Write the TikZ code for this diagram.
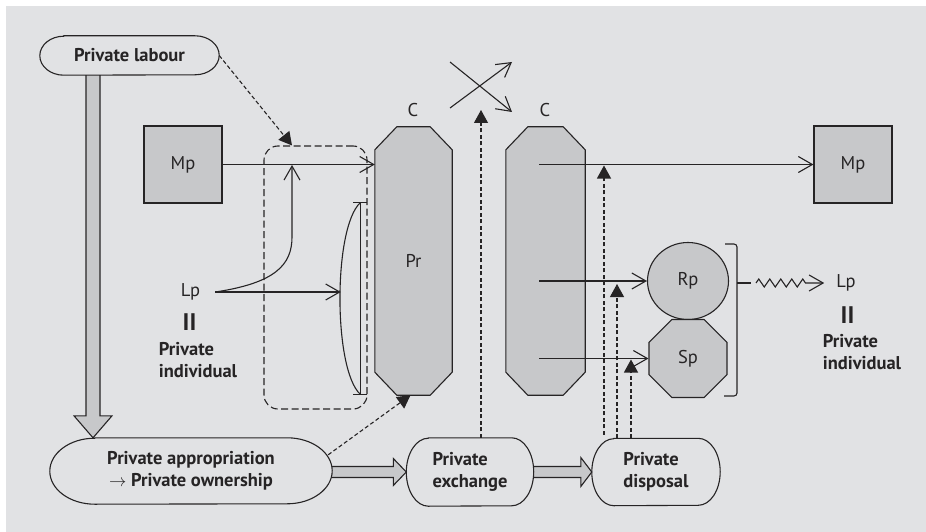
\documentclass[tikz,border=0pt]{standalone}
\usepackage{fontspec}
\setmainfont{PT Sans}
\usetikzlibrary{arrows.meta,shapes.geometric,decorations.pathmorphing}

\definecolor{panel}{HTML}{E1E2E4}
\definecolor{shade}{HTML}{C7C8CA}
\definecolor{ink}{HTML}{262425}

% stadium outline around a node: node name, end x-radius, end y-radius (pt)
\newcommand\stadiumoutline[3]{%
  \draw[outline] ([xshift=#2pt]#1.north west) -- ([xshift=-#2pt]#1.north east)
    arc[start angle=90,end angle=-90,x radius=#2pt,y radius=#3pt]
    -- ([xshift=#2pt]#1.south west)
    arc[start angle=270,end angle=90,x radius=#2pt,y radius=#3pt] -- cycle;}

% chamfered column around a node
\newcommand\columnoutline[1]{%
  \draw[outline, fill=shade] ([xshift=22pt]#1.north west) -- ([xshift=-22pt]#1.north east)
    -- ([yshift=-23pt]#1.north east) -- ([yshift=23pt]#1.south east)
    -- ([xshift=-22pt]#1.south east) -- ([xshift=22pt]#1.south west)
    -- ([yshift=23pt]#1.south west) -- ([yshift=-23pt]#1.north west) -- cycle;}

\begin{document}
\begin{tikzpicture}[x=1pt,y=-1pt,
  body/.style={font=\fontsize{18.5}{22}\selectfont},
  heavy/.style={font=\fontsize{18.5}{22}\selectfont\bfseries},
  bars/.style={font=\fontsize{24}{24}\selectfont\bfseries},
  tag/.style={body, text=ink, inner sep=0},
  outline/.style={draw=ink, line width=1.1pt},
  open/.style={outline, -{Straight Barb[length=14pt,width=16pt]}},
  dashlink/.style={outline, dash pattern=on 4pt off 2.5pt, -{Triangle[length=13pt,width=14pt]}},
  fat/.style={outline, fill=shade, line join=miter},
  box/.style={tag, outline, fill=shade, minimum width=78, minimum height=77},
]
\useasboundingbox (0,0) rectangle (926,532);
\fill[panel] (6,6) rectangle (926,532);

% rounded process boxes
\node[tag, heavy, minimum width=179, minimum height=39] (labour) at (129.5,55.5) {Private labour};
\node[tag, heavy, align=center, minimum width=282, minimum height=66] (app) at (191,471)
  {Private appropriation\\$\rightarrow$ Private ownership};
\node[tag, heavy, align=left, minimum width=127, minimum height=68] (exch) at (470,472) {Private\\exchange};
\node[tag, heavy, align=left, minimum width=128, minimum height=67] (disp) at (656,472) {Private\\disposal};

% broad flow arrows
\coordinate (fx) at (93,0);
\coordinate (ftop) at (labour.south -| fx);
\coordinate (fbot) at (app.north -| fx);
\draw[fat] ([xshift=-7pt]ftop) -- ([xshift=-7pt,yshift=22pt]fbot) -- ([xshift=-19pt,yshift=22pt]fbot)
  -- (fbot) -- ([xshift=19pt,yshift=22pt]fbot) -- ([xshift=7pt,yshift=22pt]fbot) -- ([xshift=7pt]ftop);
\coordinate (hA) at (app.east |- exch.west);
\draw[fat] ([yshift=5.5pt]hA) -- ([xshift=-13pt,yshift=5.5pt]exch.west) -- ([xshift=-13pt,yshift=13.5pt]exch.west)
  -- (exch.west) -- ([xshift=-13pt,yshift=-13.5pt]exch.west) -- ([xshift=-13pt,yshift=-5.5pt]exch.west)
  -- ([yshift=-5.5pt]hA);
\draw[fat] ([yshift=5.5pt]exch.east) -- ([xshift=-11pt,yshift=5.5pt]disp.west) -- ([xshift=-11pt,yshift=14.5pt]disp.west)
  -- (disp.west) -- ([xshift=-11pt,yshift=-14.5pt]disp.west) -- ([xshift=-11pt,yshift=-5.5pt]disp.west)
  -- ([yshift=-5.5pt]exch.east);

\stadiumoutline{labour}{24}{19.5}
\stadiumoutline{app}{45}{33}
\stadiumoutline{exch}{22}{34}
\stadiumoutline{disp}{22}{33.5}

% commodity columns
\node[tag, minimum width=77, minimum height=268] (pr) at (413.5,261) {};
\node[tag, minimum width=79, minimum height=268] (cc) at (545.5,261) {};
\columnoutline{pr}
\columnoutline{cc}
\node[tag] (prtext) at (pr.center) {Pr};
\node[tag] (cL) at (413,110) {C};
\node[tag] (cR) at (545,110) {C};

% means of production
\node[box] (mpL) at (183,164.5) {Mp};
\node[box] (mpR) at (853,164.5) {Mp};

% consumption goods
\node[tag, ellipse, outline, fill=shade, minimum width=81, minimum height=77] (rp) at (688,281) {Rp};
\node[tag, regular polygon, regular polygon sides=8, outline, fill=shade, minimum size=84.4] (sp) at (688,358.5) {Sp};

% production group
\node[outline, dash pattern=on 7pt off 3.5pt, rounded corners=14pt, minimum width=103, minimum height=263, inner sep=0] (grp) at (315.5,277.5) {};
\node[tag, minimum width=26, minimum height=191] (lens) at (354,298.5) {};
\draw[outline] ([xshift=-7pt]lens.north east) -- ([xshift=-7pt]lens.south east);
\draw[outline] ([xshift=-14pt]lens.north east) -- (lens.north east);
\draw[outline] ([xshift=-14pt]lens.south east) -- (lens.south east);
\draw[outline] ([xshift=-7pt]lens.north east) .. controls ([xshift=-34pt,yshift=-25pt]lens.north east)
  and ([xshift=-34pt,yshift=25pt]lens.south east) .. ([xshift=-7pt]lens.south east);

% labour power, left
\node[tag, inner xsep=15pt] (lpL) at (190.5,292) {Lp};
\node[tag, bars] (eqL) at (189.5,322.5) {II};
\node[tag, heavy, align=left] (indL) at (198,360) {Private\\individual};
\coordinate (jn) at (292,165);
\draw[open] (lpL.east) -- (lpL.east -| lens.west);
\draw[open] (lpL.east) .. controls (275,283) and (292,265) .. (292,237) -- (jn);
\draw[open] (mpL.east) -- (mpL.east -| pr.west);
\draw[dashlink] (labour.east) -- (jn |- grp.north);
\draw[dashlink] ([shift={(-4pt,-17pt)}]app.north east) -- ([xshift=-3pt]pr.south);

% exchange crossing
\coordinate (xa) at (450,62);
\coordinate (xb) at (512,112);
\coordinate (xc) at (450,108);
\coordinate (xd) at (512,62);
\draw[open] (xa) -- (xb);
\draw[open] (xc) -- (xd);

% outflows of the second column
\coordinate (cs) at (539,0);
\draw[open] (cs |- mpR.west) -- (mpR.west);
\draw[open] (cs |- rp.west) -- (rp.west);
\draw[open] (cs |- sp.west) -- (sp.west);

% dashed links from exchange and disposal
\coordinate (d0) at (481,0);
\coordinate (d1) at (604,0);
\coordinate (d2) at (617,0);
\coordinate (d3) at (631,0);
\draw[dashlink] (d0 |- exch.north) -- (d0 |- cL.center);
\draw[dashlink, shorten <=3.5pt, shorten >=1pt] (d1 |- disp.north) -- (d1 |- mpR.west);
\draw[dashlink, shorten >=3pt] (d2 |- disp.north) -- (d2 |- rp.west);
\draw[dashlink, shorten >=1pt] (d3 |- disp.north) -- (d3 |- sp.west);

% bracket and labour power, right
\node[tag, inner xsep=12pt] (lpR) at (846,283) {Lp};
\node[tag, bars] (eqR) at (847.5,315.5) {II};
\node[tag, heavy, align=left] (indR) at (862,352) {Private\\individual};
\draw[outline, rounded corners=3pt] (725,244) -- (737,244) -- (737,396) -- (724,396);
\draw[outline] (737,283) -- (751,283);
\coordinate (sk) at (756,283);
\draw[open, decorate, decoration={zigzag, segment length=11pt, amplitude=4pt, post=lineto, post length=16pt}] (sk) -- (lpR.west);
\end{tikzpicture}
\end{document}
